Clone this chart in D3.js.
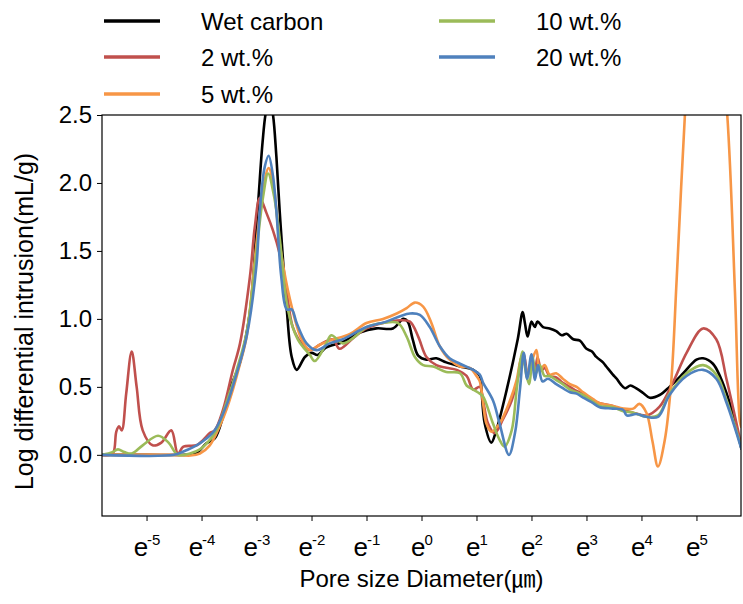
<!DOCTYPE html>
<html><head><meta charset="utf-8">
<script src="https://cdn.jsdelivr.net/npm/d3@7"></script>
<style>
body{margin:0;background:#fff;}
text{font-family:"Liberation Sans",Arial,"Noto Sans CJK KR",sans-serif;fill:#000;}
</style>
</head><body>
<svg id="chart" width="743" height="604"></svg>
<script>
// ---- data (x: natural log of pore diameter in µm; y: log differential intrusion, mL/g)
const seriesNames = ["Wet carbon", "2 wt.%", "5 wt.%", "10 wt.%", "20 wt.%"];
const seriesColors = ["#000000", "#c0504d", "#f79646", "#9bbb59", "#4f81bd"];
const xTickExponents = [-5, -4, -3, -2, -1, 0, 1, 2, 3, 4, 5];
const yTickValues = [0, 0.5, 1, 1.5, 2, 2.5];

const wetCarbonLnD = [-5.81,-5.0,-4.3,-4.1,-3.91,-3.76,-3.61,-3.49,-3.39,-3.30,-3.12,-2.98,-2.89,-2.83,-2.76,-2.70,-2.64,-2.58,-2.45,-2.36,-2.27,-2.12,-2.00,-1.89,-1.73,-1.43,-1.12,-0.82,-0.52,-0.33,-0.25,-0.16,-0.06,0.09,0.27,0.45,0.70,0.94,1.06,1.09,1.15,1.27,1.36,1.55,1.75,1.84,1.88,1.93,2.00,2.06,2.11,2.21,2.33,2.45,2.55,2.64,2.76,2.88,3.00,3.10,3.18,3.30,3.36,3.48,3.55,3.62,3.70,3.80,3.90,4.03,4.15,4.33,4.51,4.76,5.00,5.12,5.30,5.55,5.82];
const wetCarbonVal = [0,0,0,0.01,0.085,0.12,0.28,0.48,0.58,0.68,1.05,1.8,2.3,2.52,2.62,2.5,2.2,1.8,1.07,0.72,0.625,0.72,0.75,0.735,0.79,0.83,0.90,0.93,0.93,1.0,0.98,0.85,0.73,0.70,0.71,0.68,0.65,0.625,0.58,0.48,0.23,0.09,0.18,0.48,0.85,1.05,0.97,0.87,0.98,0.94,0.98,0.94,0.93,0.91,0.88,0.89,0.85,0.84,0.78,0.76,0.72,0.68,0.65,0.59,0.56,0.52,0.49,0.51,0.49,0.455,0.42,0.44,0.50,0.60,0.70,0.71,0.67,0.45,0.04];

const wt2LnD = [-5.81,-5.67,-5.60,-5.55,-5.50,-5.45,-5.37,-5.27,-5.18,-5.07,-4.89,-4.73,-4.55,-4.43,-4.33,-4.09,-3.97,-3.85,-3.76,-3.61,-3.43,-3.30,-3.12,-3.03,-2.94,-2.82,-2.70,-2.58,-2.45,-2.34,-2.18,-2.03,-1.85,-1.61,-1.49,-1.24,-1.00,-0.70,-0.39,-0.21,-0.06,0.09,0.27,0.45,0.64,0.82,0.94,1.06,1.12,1.21,1.33,1.48,1.64,1.76,1.82,1.86,1.93,2.00,2.06,2.11,2.18,2.24,2.33,2.45,2.57,2.70,2.82,2.94,3.12,3.24,3.48,3.67,3.85,4.09,4.33,4.57,4.82,5.12,5.36,5.55,5.82];
const wt2Val = [0,0,0.02,0.17,0.21,0.18,0.45,0.76,0.5,0.18,0.07,0.09,0.18,0.01,0.06,0.07,0.11,0.16,0.18,0.33,0.625,0.82,1.31,1.68,1.89,1.78,1.65,1.48,1.19,0.94,0.82,0.77,0.81,0.85,0.78,0.86,0.93,0.97,0.99,0.98,0.87,0.72,0.66,0.64,0.625,0.58,0.48,0.50,0.40,0.23,0.16,0.26,0.40,0.58,0.72,0.74,0.58,0.70,0.60,0.72,0.62,0.64,0.58,0.57,0.53,0.50,0.47,0.45,0.40,0.38,0.36,0.33,0.31,0.29,0.355,0.53,0.75,0.93,0.85,0.55,0.06];

const wt5LnD = [-5.81,-4.5,-4.2,-4.03,-3.85,-3.67,-3.55,-3.43,-3.30,-3.18,-3.00,-2.88,-2.78,-2.68,-2.58,-2.39,-2.18,-2.03,-1.85,-1.67,-1.30,-1.00,-0.70,-0.45,-0.27,-0.12,0.03,0.18,0.33,0.51,0.70,0.88,1.00,1.06,1.12,1.18,1.27,1.42,1.61,1.73,1.82,1.88,1.94,2.00,2.09,2.15,2.24,2.33,2.45,2.57,2.70,2.82,2.94,3.12,3.24,3.48,3.67,3.85,3.96,4.09,4.20,4.30,4.42,4.54,4.64,4.79,4.95,5.15,5.35,5.56,5.70,5.79,5.82];
const wt5Val = [0,0,-0.005,0.01,0.07,0.21,0.33,0.48,0.67,0.87,1.56,1.95,2.11,1.95,1.56,1.14,0.85,0.77,0.81,0.84,0.89,0.97,1.00,1.04,1.08,1.12,1.09,0.97,0.80,0.70,0.65,0.64,0.58,0.54,0.38,0.23,0.17,0.23,0.40,0.55,0.72,0.66,0.60,0.68,0.77,0.62,0.66,0.59,0.60,0.56,0.52,0.50,0.46,0.41,0.38,0.36,0.34,0.34,0.375,0.31,0.10,-0.086,0.10,0.53,1.29,2.5,3.5,3.9,3.4,2.5,1.2,0.245,0.2];

const wt10LnD = [-5.81,-5.62,-5.52,-5.40,-5.27,-5.07,-4.79,-4.60,-4.43,-4.21,-4.03,-3.85,-3.73,-3.55,-3.36,-3.18,-3.00,-2.88,-2.79,-2.68,-2.58,-2.43,-2.25,-2.03,-1.94,-1.73,-1.64,-1.43,-1.21,-1.00,-0.70,-0.43,-0.27,-0.12,0.03,0.21,0.45,0.70,0.82,0.94,1.06,1.12,1.30,1.42,1.51,1.64,1.73,1.81,1.84,1.90,1.96,2.02,2.08,2.15,2.24,2.33,2.45,2.57,2.70,2.82,2.94,3.12,3.24,3.48,3.67,3.85,4.09,4.30,4.51,4.82,5.12,5.36,5.55,5.82];
const wt10Val = [0,0.02,0.04,0.02,0.01,0.07,0.14,0.09,0,0.01,0.04,0.11,0.18,0.38,0.625,0.9,1.5,1.9,2.07,1.9,1.6,1.07,0.85,0.735,0.69,0.82,0.88,0.82,0.87,0.94,0.97,0.97,0.87,0.72,0.66,0.65,0.61,0.60,0.51,0.48,0.45,0.43,0.23,0.11,0.06,0.18,0.48,0.72,0.76,0.60,0.52,0.72,0.60,0.66,0.58,0.58,0.55,0.52,0.48,0.46,0.44,0.39,0.36,0.35,0.32,0.31,0.28,0.29,0.45,0.60,0.66,0.59,0.40,0.05];

const wt20LnD = [-5.81,-4.5,-4.33,-4.09,-3.91,-3.76,-3.55,-3.36,-3.18,-3.00,-2.94,-2.85,-2.78,-2.70,-2.64,-2.55,-2.45,-2.36,-2.27,-2.09,-1.91,-1.67,-1.43,-1.00,-0.64,-0.39,-0.21,-0.03,0.15,0.33,0.51,0.70,0.94,1.06,1.12,1.30,1.42,1.59,1.70,1.79,1.86,1.92,2.00,2.06,2.12,2.20,2.30,2.45,2.57,2.70,2.82,2.94,3.12,3.24,3.48,3.67,3.73,3.91,4.09,4.30,4.51,4.82,5.12,5.36,5.55,5.82];
const wt20Val = [0,0,0.025,0.07,0.12,0.18,0.36,0.60,0.87,1.4,1.8,2.12,2.2,2.05,1.8,1.31,1.07,1.07,0.97,0.82,0.77,0.82,0.85,0.94,0.98,1.02,1.04,1.03,0.94,0.80,0.71,0.67,0.625,0.59,0.53,0.40,0.23,0,0.16,0.48,0.75,0.56,0.74,0.55,0.66,0.54,0.56,0.52,0.49,0.46,0.45,0.42,0.38,0.35,0.34,0.33,0.29,0.30,0.28,0.28,0.44,0.58,0.625,0.56,0.38,0.04];

const seriesLnD = [wetCarbonLnD, wt2LnD, wt5LnD, wt10LnD, wt20LnD];
const seriesVal = [wetCarbonVal, wt2Val, wt5Val, wt10Val, wt20Val];

// ---- layout
const plot = {left: 102, right: 741, top: 115, bottom: 516};
const svg = d3.select("#chart");

const x = d3.scaleLog().base(Math.E)
  .domain([Math.exp(-5.81), Math.exp(5.81)])
  .range([plot.left, plot.right]);
const y = d3.scaleLinear().domain([-0.45, 2.5]).range([plot.bottom, plot.top]);

svg.append("defs").append("clipPath").attr("id", "clip")
  .append("rect").attr("x", plot.left).attr("y", plot.top)
  .attr("width", plot.right - plot.left).attr("height", plot.bottom - plot.top);

// series lines
const line = d3.line()
  .x(d => x(Math.exp(d[0])))
  .y(d => y(d[1]))
  .curve(d3.curveCatmullRom.alpha(0.5));

const lines = svg.append("g").attr("clip-path", "url(#clip)");
seriesNames.forEach((name, i) => {
  const pts = seriesLnD[i].map((l, j) => [l, seriesVal[i][j]]);
  lines.append("path")
    .attr("d", line(pts))
    .attr("fill", "none")
    .attr("stroke", seriesColors[i])
    .attr("stroke-width", 2.6)
    .attr("stroke-linejoin", "round");
});

// frame
svg.append("rect")
  .attr("x", plot.left).attr("y", plot.top)
  .attr("width", plot.right - plot.left).attr("height", plot.bottom - plot.top)
  .attr("fill", "none").attr("stroke", "#000").attr("stroke-width", 1.2);

// y axis
const yAxis = svg.append("g").attr("transform", `translate(${plot.left},0)`)
  .call(d3.axisLeft(y).tickValues(yTickValues).tickFormat(d3.format(".1f")).tickSize(5).tickPadding(5));
yAxis.select(".domain").remove();
yAxis.selectAll("text").style("font-size", "24px").attr("font-family", null);
yAxis.selectAll("line").attr("stroke", "#000");

// x axis
const xAxis = svg.append("g").attr("transform", `translate(0,${plot.bottom})`)
  .call(d3.axisBottom(x).tickValues(xTickExponents.map(e => Math.exp(e))).tickFormat("").tickSize(5));
xAxis.select(".domain").remove();
xAxis.selectAll("line").attr("stroke", "#000");
xAxis.selectAll(".tick").each(function(d, i) {
  const t = d3.select(this).append("text")
    .attr("y", 40).attr("text-anchor", "middle").style("font-size", "26px");
  t.append("tspan").text("e");
  t.append("tspan").attr("dy", -11).attr("dx", -1).style("font-size", "15px").text(String(xTickExponents[i]));
});

// axis titles
svg.append("text")
  .attr("transform", `translate(33,${(plot.top + plot.bottom) / 2 + 6}) rotate(-90)`)
  .attr("text-anchor", "middle").style("font-size", "25px")
  .text("Log differential intrusion(mL/g)");
svg.append("text")
  .attr("x", (plot.left + plot.right) / 2).attr("y", 587)
  .attr("text-anchor", "middle").style("font-size", "24px")
  .text("Pore size Diameter(\u339B)");

// legend
const legendPos = [[104, 21], [104, 57], [104, 94], [439, 21], [439, 57]];
const legend = svg.append("g");
seriesNames.forEach((name, i) => {
  const [lx, ly] = legendPos[i];
  legend.append("line").attr("x1", lx).attr("x2", lx + 56).attr("y1", ly).attr("y2", ly)
    .attr("stroke", seriesColors[i]).attr("stroke-width", 3.5);
  legend.append("text").attr("x", lx + 97).attr("y", ly + 8.5)
    .style("font-size", "24px").text(name);
});
</script>
</body></html>
